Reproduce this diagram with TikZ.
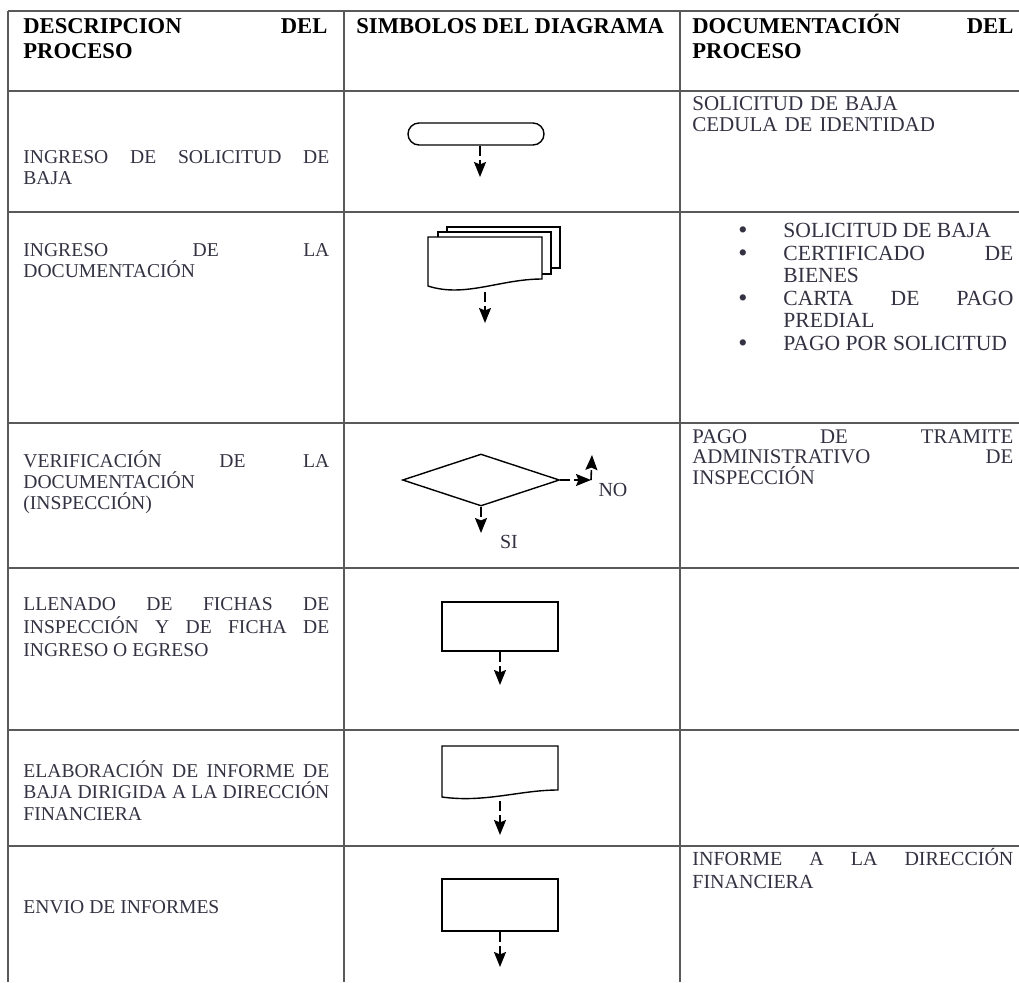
\documentclass[tikz,border=0pt]{standalone}
\usepackage{fontspec}
\setmainfont{Liberation Serif}
\usepackage{tikz}
\usetikzlibrary{shapes.geometric,shapes.misc,arrows.meta,positioning}
\definecolor{inkgray}{RGB}{50,50,66}
\hyphenpenalty=10000
\exhyphenpenalty=10000

\begin{document}
\begin{tikzpicture}[
  x=0.5pt, y=-0.5pt,
  gridline/.style={draw=black!65, line width=0.8pt},
  headtext/.style={anchor=base west, inner sep=0pt, align=justify, font=\fontsize{11.3}{12.5}\selectfont\bfseries},
  desctext/.style={anchor=base west, inner sep=0pt, text width=153pt, align=justify, text=inkgray, font=\fontsize{9.8}{10.5}\selectfont},
  doctext/.style={anchor=base west, inner sep=0pt, text width=160.5pt, align=justify, text=inkgray, font=\fontsize{10.4}{10.4}\selectfont},
  listtext/.style={anchor=base west, inner sep=0pt, text width=115pt, align=justify, text=inkgray, font=\fontsize{10.8}{11.2}\selectfont},
  bullnode/.style={anchor=base, inner sep=0pt, text=inkgray, font=\fontsize{13}{13}\selectfont},
  termnode/.style={rounded rectangle, draw, line width=0.7pt, minimum width=68pt, minimum height=11pt, inner sep=0pt},
  procnode/.style={rectangle, draw, line width=0.7pt, minimum width=58pt, inner sep=0pt},
  decinode/.style={diamond, draw, line width=0.7pt, minimum width=78.5pt, minimum height=26pt, inner sep=0pt},
  flowarrow/.style={draw, line width=0.8pt, dash pattern=on 5pt off 2pt, -{Stealth[length=7.5pt,width=6pt,inset=1.2pt]}},
  ynlabel/.style={inner sep=0pt, text=inkgray, font=\fontsize{10}{10}\selectfont},
]
\useasboundingbox (0,0) rectangle (1019,982);

% Table
\draw[gridline] (8,11) -- (1019,11);
\draw[gridline] (8,91) -- (1019,91);
\draw[gridline] (8,212) -- (1019,212);
\draw[gridline] (8,423) -- (1019,423);
\draw[gridline] (8,568) -- (1019,568);
\draw[gridline] (8,730) -- (1019,730);
\draw[gridline] (8,846) -- (1019,846);
\draw[gridline] (8,11) -- (8,982);
\draw[gridline] (344,11) -- (344,982);
\draw[gridline] (680,11) -- (680,982);

% Header
\node[headtext, text width=152pt] (hdesc) at (23,33) {DESCRIPCION DEL\linebreak PROCESO};
\node[headtext] (hsimb) at (356,33) {SIMBOLOS DEL DIAGRAMA};
\node[headtext, text width=160.5pt] (hdocu) at (692,33) {DOCUMENTACIÓN DEL\linebreak PROCESO};

% Description column
\node[desctext] (desc1) at (23,163) {INGRESO DE SOLICITUD DE\linebreak BAJA};
\node[desctext] (desc2) at (23,256) {INGRESO DE LA\linebreak DOCUMENTACIÓN};
\node[desctext] (desc3) at (23,467) {VERIFICACIÓN DE LA\linebreak DOCUMENTACIÓN\\(INSPECCIÓN)};
\node[desctext, font=\fontsize{9.8}{11.6}\selectfont] (desc4) at (23,610) {LLENADO DE FICHAS DE\linebreak INSPECCIÓN Y DE FICHA DE\linebreak INGRESO O EGRESO};
\node[desctext, font=\fontsize{9.8}{10.8}\selectfont] (desc5) at (23,777) {ELABORACIÓN DE INFORME DE\linebreak BAJA DIRIGIDA A LA DIRECCIÓN\linebreak FINANCIERA};
\node[desctext] (desc6) at (23,913) {ENVIO DE INFORMES};

% Documentation column
\node[doctext, align=left, font=\fontsize{10.5}{10.5}\selectfont] (docu1) at (692,110) {SOLICITUD DE BAJA\\CEDULA DE IDENTIDAD};
\node[bullnode] (bul1) at (743,238) {\textbullet};
\node[bullnode] (bul2) at (743,261) {\textbullet};
\node[bullnode] (bul3) at (743,306) {\textbullet};
\node[bullnode] (bul4) at (743,351) {\textbullet};
\node[listtext] (item1) at (783,237) {SOLICITUD DE BAJA};
\node[listtext] (item2) at (783,260) {CERTIFICADO DE\linebreak BIENES};
\node[listtext] (item3) at (783,305) {CARTA DE PAGO\linebreak PREDIAL};
\node[listtext] (item4) at (783,350) {PAGO POR SOLICITUD};
\node[doctext] (docu3) at (692,443) {PAGO DE TRAMITE\linebreak ADMINISTRATIVO DE\linebreak INSPECCIÓN};
\node[doctext, font=\fontsize{10}{11.5}\selectfont] (docu6) at (692,865) {INFORME A LA DIRECCIÓN\linebreak FINANCIERA};

% Symbols
\node[termnode] (term) at (476,134) {};
\coordinate (tip1) at (480,177);
\draw[flowarrow] (term.south -| tip1) -- (tip1);

% stacked documents
\draw[line width=0.7pt, fill=white] (447,227) rectangle (560,268);
\draw[line width=0.7pt, fill=white] (438,232) rectangle (551,274);
\draw[line width=0.7pt, fill=white] (428,237) -- (542,237) -- (542,279)
  .. controls (500,279) and (465,298) .. (428,286) -- cycle;
\coordinate (mdoc) at (485,292);
\coordinate (tip2) at (485,323);
\draw[flowarrow] (mdoc) -- (tip2);

\node[decinode] (deci) at (481,480) {};
\coordinate (tip3) at (481,533);
\coordinate (noturn) at (591,480);
\coordinate (tipno) at (592,455);
\draw[flowarrow] (deci.south) -- (tip3);
\draw[flowarrow] (deci.east) -- (noturn);
\draw[flowarrow] (noturn) -- (tipno);
\node[ynlabel] (labsi) at (509,542) {SI};
\node[ynlabel] (labno) at (613,490) {NO};

\node[procnode, minimum height=24.5pt] (proc1) at (500,626.5) {};
\coordinate (tip4) at (500,685);
\draw[flowarrow] (proc1.south) -- (tip4);

% single document
\draw[line width=0.7pt] (442,746) -- (558,746) -- (558,790)
  .. controls (520,790) and (485,803) .. (442,797) -- cycle;
\coordinate (sdoc) at (500,801);
\coordinate (tip5) at (500,835);
\draw[flowarrow] (sdoc) -- (tip5);

\node[procnode, minimum height=26pt] (proc2) at (500,905) {};
\coordinate (tip6) at (500,967);
\draw[flowarrow] (proc2.south) -- (tip6);

\end{tikzpicture}
\end{document}
